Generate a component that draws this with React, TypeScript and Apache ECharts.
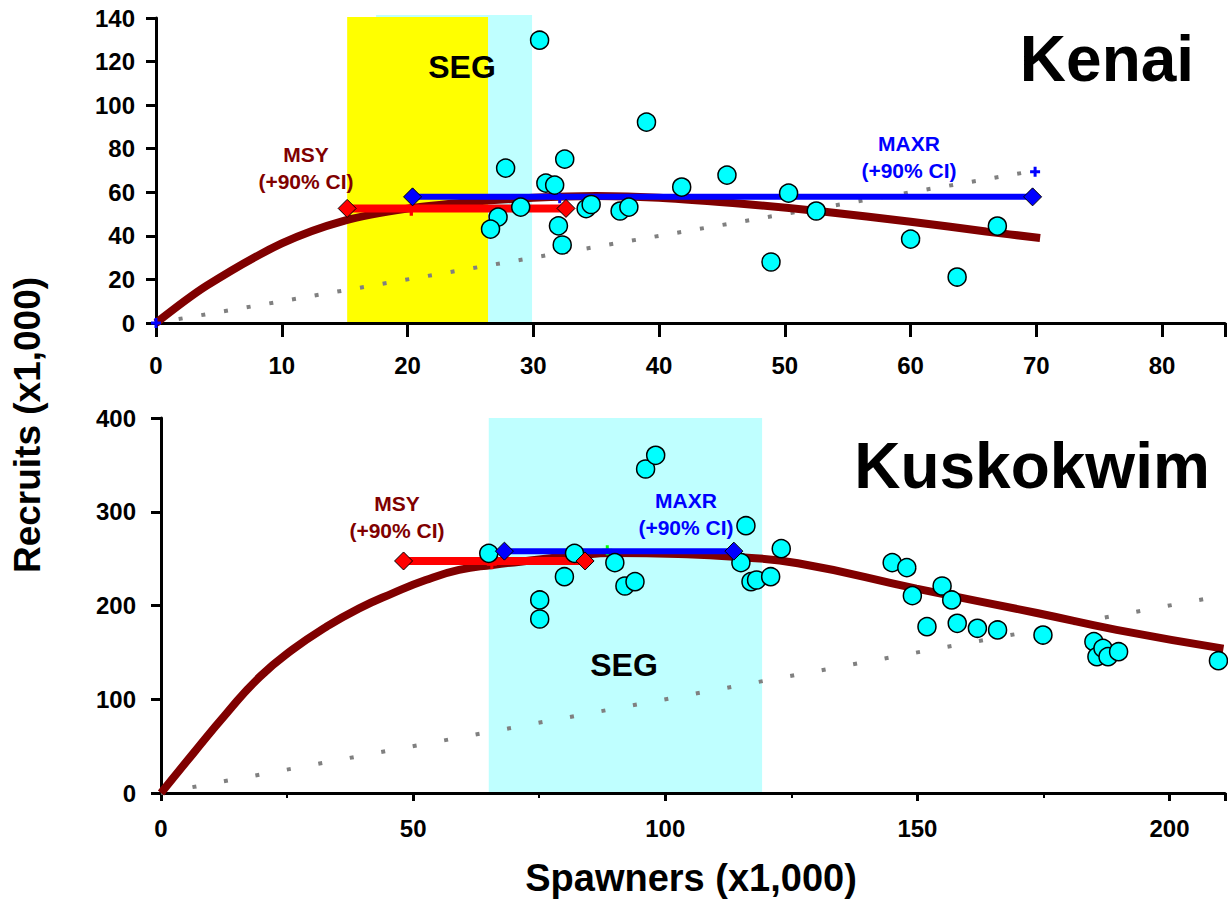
import React, { useEffect, useRef } from "react";
import * as echarts from "echarts";

// ---------- Kenai (top panel) ----------
const kenaiSpawners = [30.5, 27.8, 32.5, 31.0, 31.7, 29.0, 27.2, 26.6, 32.0, 32.3, 34.2, 34.6, 36.9, 37.6, 39.0, 41.8, 45.4, 50.3, 52.5, 60.0, 48.9, 63.7, 66.9];
const kenaiRecruits = [129.8, 71.1, 75.2, 64.2, 63.3, 53.2, 48.6, 43.1, 44.6, 35.8, 52.5, 54.4, 51.4, 53.2, 92.2, 62.4, 67.9, 59.6, 51.4, 38.5, 28.0, 21.1, 44.5];
const kenaiCurveS = [0, 4, 10, 15, 20, 25, 30, 35, 40, 47, 53, 60, 66, 70.3];
const kenaiCurveR = [0, 17, 36.5, 47, 52.5, 55.5, 57.5, 58.3, 57.5, 54.5, 51.2, 46.5, 42, 39];
const kenaiReplacement = [0, 70];
const kenaiMsyRange = [15.2, 32.6];
const kenaiMsyR = 52.6;
const kenaiMsyPoint = [20.3, 51.8];
const kenaiMaxrRange = [20.4, 69.7];
const kenaiMaxrR = 57.9;
const kenaiBluePlus = [[0, 0], [32.1, 57.3], [69.9, 69.4]];
const kenaiSegCyan = [17.5, 29.9, 141.4];
const kenaiSegYellow = [15.2, 26.4, 140.5];
const kenaiXTicks = [0, 85, 10];
const kenaiYTicks = [0, 140, 20];

// ---------- Kuskokwim (bottom panel) ----------
const kuskSpawners = [65.0, 82.0, 80.0, 75.1, 75.1, 90.0, 92.0, 94.0, 96.1, 98.1, 116.0, 123.0, 115.0, 117.0, 118.1, 120.9, 145.0, 147.9, 149.0, 154.9, 156.8, 151.9, 157.9, 161.9, 165.9, 174.9, 185.0, 185.6, 186.8, 187.8, 189.9, 209.7];
const kuskRecruits = [255.6, 255.6, 230.7, 205.9, 185.6, 245.7, 220.8, 225.4, 345.6, 360.2, 285.1, 260.6, 245.7, 225.4, 227.2, 230.7, 245.7, 240.4, 210.5, 220.8, 205.9, 177.4, 181.0, 175.7, 173.9, 168.5, 161.4, 145.4, 154.3, 145.4, 150.7, 141.1];
const kuskCurveS = [0, 6.4, 13, 19.6, 26.1, 32.7, 39.3, 45.9, 52.5, 59.1, 65.7, 75, 81.5, 90, 102.6, 113.6, 126.3, 149.8, 173.7, 189.5, 210.7];
const kuskCurveR = [0, 42.3, 85, 124, 153, 177, 197, 213, 227.2, 237.9, 243.2, 249, 253, 256, 255, 252, 245, 218, 192, 174, 154];
const kuskReplacement = [0, 211];
const kuskMsyRange = [48.1, 84.1];
const kuskMsyR = 247.5;
const kuskMsyPoint = [65.6, 244];
const kuskMaxrRange = [68.1, 113.6];
const kuskMaxrR = 258;
const kuskGreenPlus = [88.5, 259];
const kuskSegCyan = [65.0, 119.2, 400];
const kuskXTicks = [0, 211, 50];
const kuskYTicks = [0, 400, 100];

const FONT = '"Liberation Sans", Arial, sans-serif';
const DARKRED = "#800000";
const PLUS = "path://M0,3.5H3.5V0H6.5V3.5H10V6.5H6.5V10H3.5V6.5H0Z";

const zip = (a: number[], b: number[]) => a.map((v, i) => [v, b[i]]);

function bandSeries(idx: number, bands: number[][], colors: string[]) {
  return {
    type: "custom",
    xAxisIndex: idx,
    yAxisIndex: idx,
    z: 0,
    clip: false,
    silent: true,
    data: bands,
    encode: { x: [0, 1], y: 2 },
    renderItem: (params: any, api: any) => {
      const p0 = api.coord([api.value(0), 0]);
      const p1 = api.coord([api.value(1), api.value(2)]);
      return {
        type: "rect",
        shape: { x: p0[0], y: p1[1], width: p1[0] - p0[0], height: p0[1] - p1[1] },
        style: { fill: colors[params.dataIndex] },
      };
    },
  };
}

function panelSeries(
  idx: number,
  pts: number[][],
  curve: number[][],
  repl: number[],
  msyRange: number[],
  msyR: number,
  maxrRange: number[],
  maxrR: number,
  dash: number[],
  smooth: number
) {
  return [
    {
      type: "line",
      xAxisIndex: idx,
      yAxisIndex: idx,
      z: 2,
      symbol: "none",
      data: [[repl[0], repl[0]], [repl[1], repl[1]]],
      lineStyle: { color: "#808080", width: 4, type: dash, cap: "butt" },
    },
    {
      type: "line",
      xAxisIndex: idx,
      yAxisIndex: idx,
      z: 3,
      symbol: "none",
      smooth,
      data: curve,
      lineStyle: { color: DARKRED, width: 8 },
    },
    {
      type: "line",
      xAxisIndex: idx,
      yAxisIndex: idx,
      z: 4,
      symbol: "none",
      data: [[msyRange[0], msyR], [msyRange[1], msyR]],
      lineStyle: { color: "#ff0000", width: 8 },
    },
    {
      type: "line",
      xAxisIndex: idx,
      yAxisIndex: idx,
      z: 5,
      symbol: "none",
      data: [[maxrRange[0], maxrR], [maxrRange[1], maxrR]],
      lineStyle: { color: "#0000ff", width: 6 },
    },
    {
      type: "scatter",
      xAxisIndex: idx,
      yAxisIndex: idx,
      z: 6,
      symbol: "circle",
      symbolSize: 18,
      data: pts,
      itemStyle: { color: "#00ffff", borderColor: "#000", borderWidth: 1.5, opacity: 1 },
    },
    {
      type: "scatter",
      xAxisIndex: idx,
      yAxisIndex: idx,
      z: 7,
      symbol: "diamond",
      symbolSize: 18,
      data: [[msyRange[0], msyR], [msyRange[1], msyR]],
      itemStyle: { color: "#ff0000", borderColor: "#000", borderWidth: 1, opacity: 1 },
    },
    {
      type: "scatter",
      xAxisIndex: idx,
      yAxisIndex: idx,
      z: 7,
      symbol: "diamond",
      symbolSize: 18,
      data: [[maxrRange[0], maxrR], [maxrRange[1], maxrR]],
      itemStyle: { color: "#0000ff", borderColor: "#000", borderWidth: 1, opacity: 1 },
    },
  ];
}

function plusSeries(idx: number, data: number[][], color: string, z: number, size = 10) {
  return {
    type: "scatter",
    xAxisIndex: idx,
    yAxisIndex: idx,
    z,
    symbol: PLUS,
    symbolSize: size,
    data,
    itemStyle: { color, opacity: 1 },
  };
}

const axisLine = { show: true, onZero: false, lineStyle: { color: "#000", width: 3 } };
const labelStyle = { color: "#000", fontFamily: FONT, fontWeight: "bold", fontSize: 24 };

function xAxis(idx: number, ticks: number[], tickLen: number, margin: number, minor: boolean) {
  return {
    type: "value",
    gridIndex: idx,
    min: ticks[0],
    max: ticks[1],
    interval: ticks[2],
    axisLine,
    axisTick: { show: true, length: tickLen, lineStyle: { color: "#000", width: 3 } },
    minorTick: minor ? { show: true, splitNumber: 2, length: 5, lineStyle: { color: "#000", width: 2 } } : { show: false },
    splitLine: { show: false },
    axisLabel: {
      ...labelStyle,
      margin,
      formatter: (v: number) => (v % ticks[2] === 0 ? String(v) : ""),
    },
  };
}

function yAxis(idx: number, ticks: number[], margin: number) {
  return {
    type: "value",
    gridIndex: idx,
    min: ticks[0],
    max: ticks[1],
    interval: ticks[2],
    axisLine,
    axisTick: { show: true, length: 10, lineStyle: { color: "#000", width: 3 } },
    splitLine: { show: false },
    axisLabel: { ...labelStyle, margin },
  };
}

function txt(x: number, y: number, text: string, size: number, color: string, lineHeight?: number, rotation?: number) {
  return {
    type: "text",
    x,
    y,
    rotation: rotation || 0,
    z: 20,
    style: {
      text,
      fill: color,
      font: `bold ${size}px ${FONT}`,
      align: "center",
      verticalAlign: "middle",
      lineHeight: lineHeight || size,
    },
  };
}

export default function App() {
  const ref = useRef<HTMLDivElement>(null);
  useEffect(() => {
    if (!ref.current) return;
    const chart = echarts.init(ref.current, null, { renderer: "svg" });
    const option = {
      animation: false,
      backgroundColor: "#fff",
      grid: [
        { left: 156, top: 18, width: 1072, height: 305, containLabel: false },
        { left: 161, top: 418, width: 1067, height: 375, containLabel: false },
      ],
      xAxis: [xAxis(0, kenaiXTicks, 14, 30, false), xAxis(1, kuskXTicks, 8, 23, true)],
      yAxis: [yAxis(0, kenaiYTicks, 21), yAxis(1, kuskYTicks, 25)],
      series: [
        bandSeries(0, [kenaiSegCyan, kenaiSegYellow], ["#bfffff", "#ffff00"]),
        ...panelSeries(0, zip(kenaiSpawners, kenaiRecruits), zip(kenaiCurveS, kenaiCurveR), kenaiReplacement, kenaiMsyRange, kenaiMsyR, kenaiMaxrRange, kenaiMaxrR, [4, 19], 0.3),
        plusSeries(0, [kenaiMsyPoint], "#ff0000", 4.5, 11),
        plusSeries(0, kenaiBluePlus, "#0000ff", 8, 10),
        bandSeries(1, [kuskSegCyan], ["#bfffff"]),
        plusSeries(1, [kuskGreenPlus], "#00ff00", 4.8, 10),
        ...panelSeries(1, zip(kuskSpawners, kuskRecruits), zip(kuskCurveS, kuskCurveR), kuskReplacement, kuskMsyRange, kuskMsyR, kuskMaxrRange, kuskMaxrR, [4, 28], 0.5),
        plusSeries(1, [kuskMsyPoint], "#ff0000", 4.5, 10),
      ],
      graphic: [
        txt(1107, 59, "Kenai", 64, "#000"),
        txt(1032, 466, "Kuskokwim", 64, "#000"),
        txt(462, 67, "SEG", 32, "#000"),
        txt(624, 665, "SEG", 32, "#000"),
        txt(306, 168, "MSY\n(+90% CI)", 21, DARKRED, 27),
        txt(909, 157, "MAXR\n(+90% CI)", 21, "#0000ff", 27),
        txt(397, 517, "MSY\n(+90% CI)", 21, DARKRED, 27),
        txt(686, 514, "MAXR\n(+90% CI)", 21, "#0000ff", 27),
        txt(27, 425, "Recruits (x1,000)", 37, "#000", 37, Math.PI / 2),
        txt(691, 878, "Spawners (x1,000)", 38, "#000"),
      ],
    };
    chart.setOption(option as any);
    return () => chart.dispose();
  }, []);
  return (
    <div
      ref={ref}
      style={{ position: "absolute", left: 0, top: 0, width: 1228, height: 900, background: "#fff" }}
    />
  );
}
